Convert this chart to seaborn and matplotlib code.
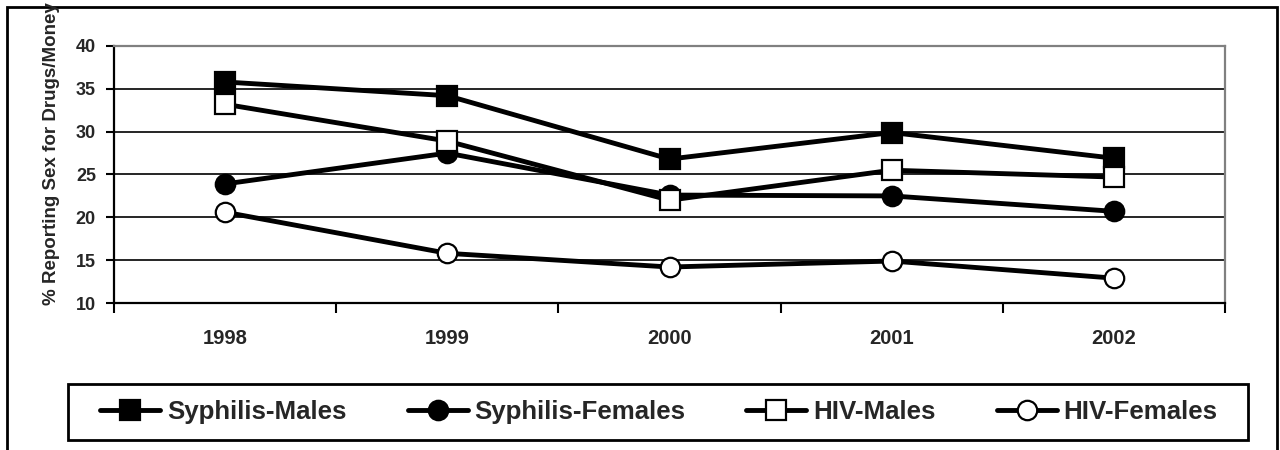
import matplotlib
matplotlib.use("Agg")
import matplotlib.pyplot as plt
from matplotlib.patches import Rectangle
from matplotlib.ticker import FixedLocator, NullFormatter
import numpy as np
import pandas as pd
import seaborn as sns

# Survey years and % reporting sex for drugs/money
years = ["1998", "1999", "2000", "2001", "2002"]
syphilis_males = [35.8, 34.2, 26.8, 29.9, 26.9]
syphilis_females = [23.9, 27.5, 22.6, 22.5, 20.7]
hiv_males = [33.2, 28.9, 22.0, 25.5, 24.7]
hiv_females = [20.6, 15.8, 14.2, 14.9, 12.9]
series_names = ["Syphilis-Males", "Syphilis-Females", "HIV-Males", "HIV-Females"]
y_ticks = [10, 15, 20, 25, 30, 35, 40]
y_label = "% Reporting Sex for Drugs/Money"

sns.set_theme(style="white")
plt.rcParams["font.family"] = ["Liberation Sans", "DejaVu Sans"]
plt.rcParams["font.weight"] = "bold"

W, H = 1280, 450
fig = plt.figure(figsize=(W / 100, H / 100), dpi=100)
fig.patch.set_facecolor("white")

# Plot-area placement in pixels
left, right, top, bottom = 114, 1225, 46, 303
ax = fig.add_axes([left / W, 1 - bottom / H, (right - left) / W, (bottom - top) / H])

df = pd.DataFrame({
    "idx": np.tile(np.arange(len(years)), 4),
    "value": syphilis_males + syphilis_females + hiv_males + hiv_females,
    "series": np.repeat(series_names, len(years)),
})

styles = {
    "Syphilis-Males": dict(marker="s", ms=15, mfc="black"),
    "Syphilis-Females": dict(marker="o", ms=14, mfc="black"),
    "HIV-Males": dict(marker="s", ms=14, mfc="white"),
    "HIV-Females": dict(marker="o", ms=14, mfc="white"),
}

for name in series_names:
    st = styles[name]
    sns.lineplot(
        data=df[df["series"] == name], x="idx", y="value", ax=ax,
        color="black", linewidth=3.5, marker=st["marker"],
        markersize=st["ms"], markerfacecolor=st["mfc"],
        markeredgecolor="black", markeredgewidth=1.6,
        label=name, zorder=3, clip_on=False,
    )

ax.set_xlim(-0.5, len(years) - 0.5)
ax.set_ylim(10, 40)
ax.set_yticks(y_ticks)
ax.set_xticks(range(len(years)))
ax.set_xticklabels(years, fontsize=14.5, fontweight="bold")
ax.xaxis.set_minor_locator(FixedLocator(np.arange(-0.5, len(years), 1.0)))
ax.xaxis.set_minor_formatter(NullFormatter())
ax.tick_params(axis="x", which="major", length=0, pad=19)
ax.tick_params(axis="x", which="minor", length=7, width=1.5, color="black",
               direction="out", bottom=True)
ax.tick_params(axis="y", which="major", length=6, width=1.5, color="black",
               direction="out", left=True, pad=7, labelsize=13)
for lab in ax.get_yticklabels():
    lab.set_fontweight("bold")

ax.set_xlabel("")
ax.set_ylabel("")
ax.set_axisbelow(True)
ax.yaxis.grid(True, color="black", linewidth=1.2)
ax.xaxis.grid(False)

for side in ["left", "bottom"]:
    ax.spines[side].set_color("black")
    ax.spines[side].set_linewidth(1.6)
for side in ["top", "right"]:
    ax.spines[side].set_color("#808080")
    ax.spines[side].set_linewidth(1.6)
    ax.spines[side].set_visible(True)

fig.text(52 / W, 1 - 154 / H, y_label, rotation=90, ha="center", va="center",
         fontsize=13.5, fontweight="bold")

# Legend row across the bottom, inside its own box
handles, labels = ax.get_legend_handles_labels()
if ax.legend_:
    ax.legend_.remove()
leg = fig.legend(
    handles, labels, ncol=4, loc="center",
    bbox_to_anchor=(659 / W, 1 - 412 / H),
    prop=dict(weight="bold", size=18.6),
    frameon=False, handlelength=2.32, handletextpad=0.27,
    columnspacing=2.36, borderpad=0.0, borderaxespad=0.0,
)
for line in leg.get_lines():
    line.set_linewidth(3.5)
fig.patches.append(Rectangle((68 / W, 1 - 440 / H), (1248 - 68) / W, 56 / H,
                             transform=fig.transFigure, fill=False,
                             edgecolor="black", linewidth=2.0))

# Outer chart frame (open at the bottom edge of the image)
fig.patches.append(Rectangle((7 / W, -0.1), (1277 - 7) / W, 1 - 7 / H + 0.1,
                             transform=fig.transFigure, fill=False,
                             edgecolor="black", linewidth=2.0))

fig.savefig("out.png", dpi=100)
